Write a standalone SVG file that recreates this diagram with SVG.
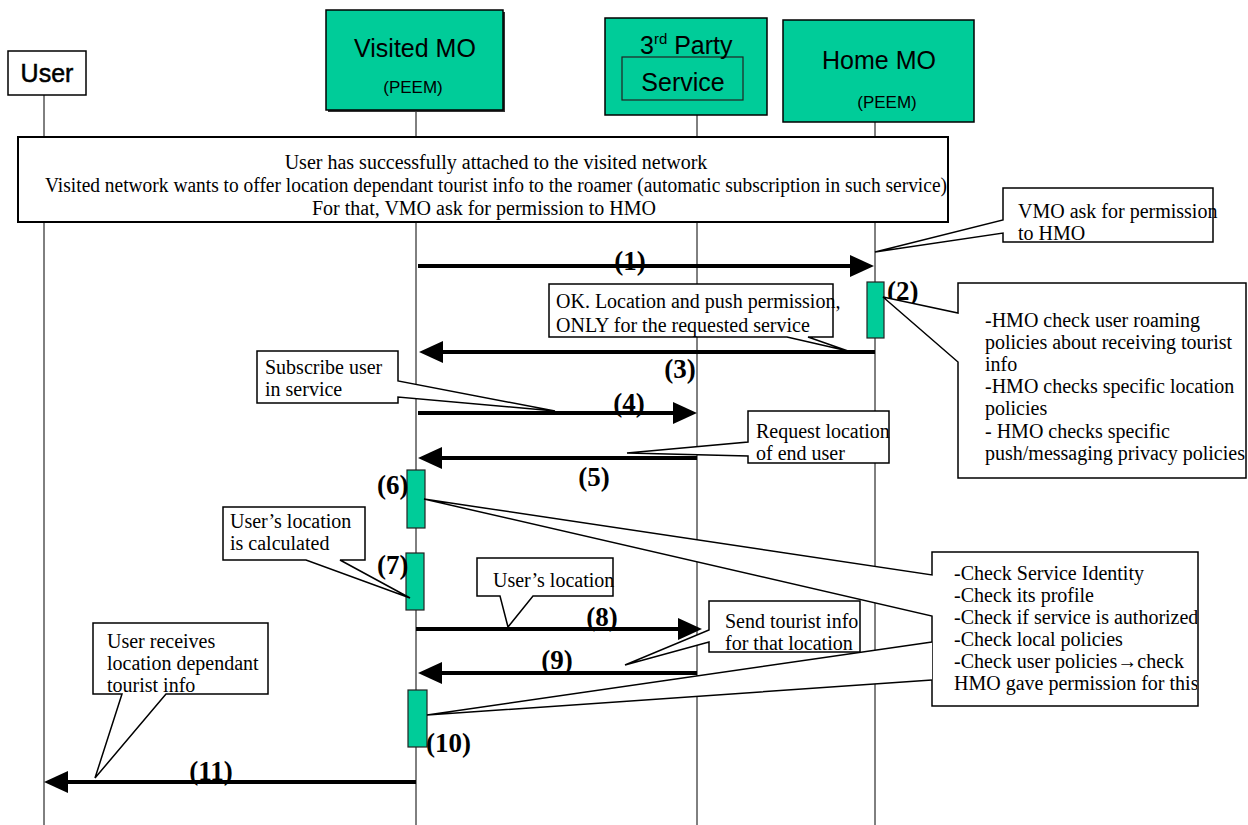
<svg xmlns="http://www.w3.org/2000/svg" width="1248" height="825" viewBox="0 0 1248 825">
<style>
.hdr{fill:#00CC99;stroke:#000;stroke-width:1.5}
.sans{font-family:"Liberation Sans",Arial,sans-serif;fill:#000}
.ser{font-family:"Liberation Serif","Times New Roman",serif;fill:#000;font-size:20px}
.num{font-family:"Liberation Serif","Times New Roman",serif;fill:#000;font-size:27px;font-weight:bold}
.life{stroke:#000;stroke-width:1;fill:none}
.msg{stroke:#000;stroke-width:4;fill:none}
.call{fill:#fff;stroke:#000;stroke-width:1.5;stroke-linejoin:miter}
.act{fill:#00CC99;stroke:#222;stroke-width:1.2}
</style>
<defs>
<marker id="ah" markerWidth="26" markerHeight="24" refX="2" refY="12" orient="auto" markerUnits="userSpaceOnUse"><path d="M0,1 L24,12 L0,23 Z" fill="#000"/></marker>
<clipPath id="clipChk"><rect x="932" y="552" width="265" height="153"/></clipPath>
<clipPath id="clipHmo"><rect x="958" y="283" width="290" height="195"/></clipPath>
</defs>

<g id="lifelines">
<line class="life" x1="44" y1="95" x2="44" y2="825" stroke-width="1.6"/>
<line class="life" x1="416" y1="110" x2="416" y2="825"/>
<line class="life" x1="697" y1="115" x2="697" y2="825"/>
<line class="life" x1="875" y1="122" x2="875" y2="825"/>
</g>

<g id="user">
<rect x="8" y="51" width="78" height="44" fill="#fff" stroke="#000" stroke-width="1.5"/>
<text class="sans" x="47" y="82" font-size="25" text-anchor="middle" stroke="#000" stroke-width="0.5">User</text>
</g>
<g id="visited-mo">
<rect x="328" y="12" width="177" height="100" fill="#333"/>
<rect class="hdr" x="326" y="10" width="177" height="100"/>
<text class="sans" x="415" y="57" font-size="25" text-anchor="middle">Visited MO</text>
<text class="sans" x="413" y="93" font-size="17" text-anchor="middle">(PEEM)</text>
</g>
<g id="third-party">
<rect class="hdr" x="605" y="18" width="162" height="97"/>
<rect x="622" y="57" width="121" height="43" fill="none" stroke="#222" stroke-width="1.2"/>
<text class="sans" x="640" y="54" font-size="25">3<tspan font-size="15" dy="-10">rd</tspan><tspan dy="10"> Party</tspan></text>
<text class="sans" x="683" y="91" font-size="25" text-anchor="middle">Service</text>
</g>
<g id="home-mo">
<rect class="hdr" x="783" y="20" width="191" height="102"/>
<text class="sans" x="879" y="69" font-size="25" text-anchor="middle">Home MO</text>
<text class="sans" x="887" y="108" font-size="17" text-anchor="middle">(PEEM)</text>
</g>

<g id="note-attach">
<rect x="18" y="137" width="930" height="85" fill="#fff" stroke="#000" stroke-width="2"/>
<text class="ser" x="496" y="169" text-anchor="middle" font-size="19">User has successfully attached to the visited network</text>
<text class="ser" x="45" y="192" font-size="19" textLength="902" lengthAdjust="spacingAndGlyphs">Visited network wants to offer location dependant tourist info to the roamer (automatic subscription in such service)</text>
<text class="ser" x="484" y="215" text-anchor="middle" font-size="19">For that, VMO ask for permission to HMO</text>
</g>

<g id="connectors">
<line class="msg" x1="418" y1="266" x2="852" y2="266" marker-end="url(#ah)"/>
<line class="msg" x1="875" y1="352" x2="441" y2="352" marker-end="url(#ah)"/>
<line class="msg" x1="418" y1="413" x2="675" y2="413" marker-end="url(#ah)"/>
<line class="msg" x1="697" y1="458" x2="440" y2="458" marker-end="url(#ah)"/>
<line class="msg" x1="416" y1="629" x2="680" y2="629" marker-end="url(#ah)"/>
<line class="msg" x1="697" y1="673" x2="440" y2="673" marker-end="url(#ah)"/>
<line class="msg" x1="416" y1="782" x2="66" y2="782" marker-end="url(#ah)"/>
</g>

<g id="activations">
<rect class="act" x="867" y="282" width="17" height="56"/>
<rect class="act" x="407" y="470" width="18" height="58"/>
<rect class="act" x="406" y="553" width="18" height="57"/>
<rect class="act" x="408" y="690" width="19" height="57"/>
</g>

<g id="labels">
<text class="num" x="630" y="270" text-anchor="middle">(1)</text>
<text class="num" x="887" y="300">(2)</text>
<text class="num" x="680" y="378" text-anchor="middle">(3)</text>
<text class="num" x="629" y="412" text-anchor="middle">(4)</text>
<text class="num" x="594" y="486" text-anchor="middle">(5)</text>
<text class="num" x="377" y="494">(6)</text>
<text class="num" x="377" y="574" font-weight="normal" fill="#444">(7)</text>
<text class="num" x="602" y="626" text-anchor="middle">(8)</text>
<text class="num" x="557" y="669" text-anchor="middle">(9)</text>
<text class="num" x="426" y="752">(10)</text>
<text class="num" x="211" y="780" text-anchor="middle">(11)</text>
</g>

<g id="callout-vmo">
<path class="call" d="M1003,188 H1213 V242 H1003 V233 L875,252 L1003,220 Z"/>
<text class="ser" x="1018" y="218">VMO ask for permission</text>
<text class="ser" x="1018" y="240">to HMO</text>
</g>
<g id="callout-hmo-checks">
<path class="call" d="M958,283 H1246 V478 H958 V362 L883,297 L958,313 Z"/>
<g clip-path="url(#clipHmo)">
<text class="ser" x="985" y="327">-HMO check user roaming</text>
<text class="ser" x="985" y="349">policies about receiving tourist</text>
<text class="ser" x="985" y="371">info</text>
<text class="ser" x="985" y="393">-HMO checks specific location</text>
<text class="ser" x="985" y="415">policies</text>
<text class="ser" x="985" y="438">- HMO checks specific</text>
<text class="ser" x="985" y="460">push/messaging privacy policies</text>
</g>
</g>
<g id="callout-ok">
<path class="call" d="M549,284 H833 V337 H808 L848,351 L787,337 H549 Z"/>
<text class="ser" x="556" y="308">OK. Location and push permission,</text>
<text class="ser" x="556" y="332">ONLY for the requested service</text>
</g>
<g id="callout-subscribe">
<path class="call" d="M257,351 H398 V381 L555,411 L398,397 V403 H257 Z"/>
<text class="ser" x="265" y="374">Subscribe user</text>
<text class="ser" x="265" y="396">in service</text>
</g>
<g id="callout-request">
<path class="call" d="M748,411 H889 V463 H748 V456 L627,453 L748,442 Z"/>
<text class="ser" x="756" y="438">Request location</text>
<text class="ser" x="756" y="460">of end user</text>
</g>
<g id="callout-checks">
<path class="call" d="M932,552 H1198 V706 H932 V616 L424,499 L932,575 Z"/>
<path class="call" d="M932,680 L427,715 L932,642" fill="none"/>
<g clip-path="url(#clipChk)">
<text class="ser" x="954" y="580">-Check Service Identity</text>
<text class="ser" x="954" y="602">-Check its profile</text>
<text class="ser" x="954" y="624">-Check if service is authorized</text>
<text class="ser" x="954" y="646">-Check local policies</text>
<text class="ser" x="954" y="668">-Check user policies→check</text>
<text class="ser" x="954" y="690">HMO gave permission for this</text>
</g>
</g>
<g id="callout-calculated">
<path class="call" d="M223,507 H365 V560 H340 L410,598 L306,560 H223 Z"/>
<text class="ser" x="230" y="528">User’s location</text>
<text class="ser" x="230" y="550">is calculated</text>
</g>
<g id="callout-location">
<path class="call" d="M477,558 H613 V596 H533 L508,627 L500,596 H477 Z"/>
<text class="ser" x="493" y="587">User’s location</text>
</g>
<g id="callout-send">
<path class="call" d="M709,601 H860 V652 H709 V642 L625,665 L709,630 Z"/>
<text class="ser" x="725" y="628">Send tourist info</text>
<text class="ser" x="725" y="650">for that location</text>
</g>
<g id="callout-receives">
<path class="call" d="M93,623 H268 V694 H166 L95,778 L122,694 H93 Z"/>
<text class="ser" x="107" y="648">User receives</text>
<text class="ser" x="107" y="670">location dependant</text>
<text class="ser" x="107" y="692">tourist info</text>
</g>
</svg>
